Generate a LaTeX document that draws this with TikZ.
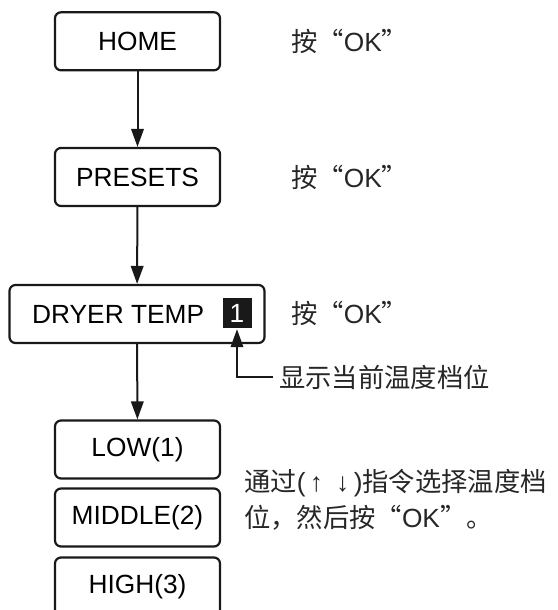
\documentclass[tikz,border=0pt]{standalone}
\usepackage{fontspec}
\setmainfont{Liberation Sans}
\newfontfamily\cjk{Noto Sans CJK SC}
\usepackage{tikz}
\usetikzlibrary{arrows.meta,positioning}

\begin{document}
\begin{tikzpicture}[
  x=1pt,y=-1pt,
  font=\fontsize{26.3}{36}\selectfont,
  >={Triangle[length=18pt,width=12.5pt]},
  menubox/.style={draw=black!90,rounded corners=6pt,line width=2.2pt,fill=white,
    minimum width=165pt,minimum height=58pt,inner sep=0pt},
  levelbox/.style={fill=black!90,text=white,minimum width=29pt,minimum height=30pt,
    inner sep=0pt},
  note/.style={anchor=west,inner sep=0pt,align=left,text=black!85},
  flow/.style={->,line width=2pt,draw=black!90}
]
  \useasboundingbox (0,0) rectangle (557,610);

  \node[menubox] (home) at (137.5,41.3) {HOME};
  \node[menubox] (presets) at (137.5,177) {PRESETS};
  \node[menubox,minimum width=255pt] (dryer) at (137,314) {};
  \node[anchor=west,inner sep=0pt] (dryerlbl) at (32,314) {DRYER TEMP};
  \node[levelbox] (level) at (237,313) {1};
  \draw[flow] (home) -- (presets);
  \draw[flow] (presets) -- (dryer);

  \node[note] (okhome) at (291,41) {{\cjk 按“}OK{\cjk ”}};
  \node[note] (okpresets) at (291,177) {{\cjk 按“}OK{\cjk ”}};
  \node[note] (okdryer) at (291,313) {{\cjk 按“}OK{\cjk ”}};

  % current level pointer
  \node[note] (curlbl) at (279,377) {\cjk 显示当前温度档位};
  \coordinate (curend) at (273,377);
  \draw[flow,shorten >=1pt] (curend) -| (level.south);

  \node[menubox] (low) at (137.5,449.5) {LOW(1)};
  \node[menubox] (middle) at (137.5,517.5) {MIDDLE(2)};
  \node[menubox] (high) at (137.5,586.5) {HIGH(3)};
  \draw[flow] (dryer) -- (low);

  \node[note] (select) at (244,500)
    {{\cjk 通过}(\,↑\enspace↓\,){\cjk 指令选择温度档}\\
     {\cjk 位，然后按“}OK{\cjk ”。}};
\end{tikzpicture}
\end{document}
